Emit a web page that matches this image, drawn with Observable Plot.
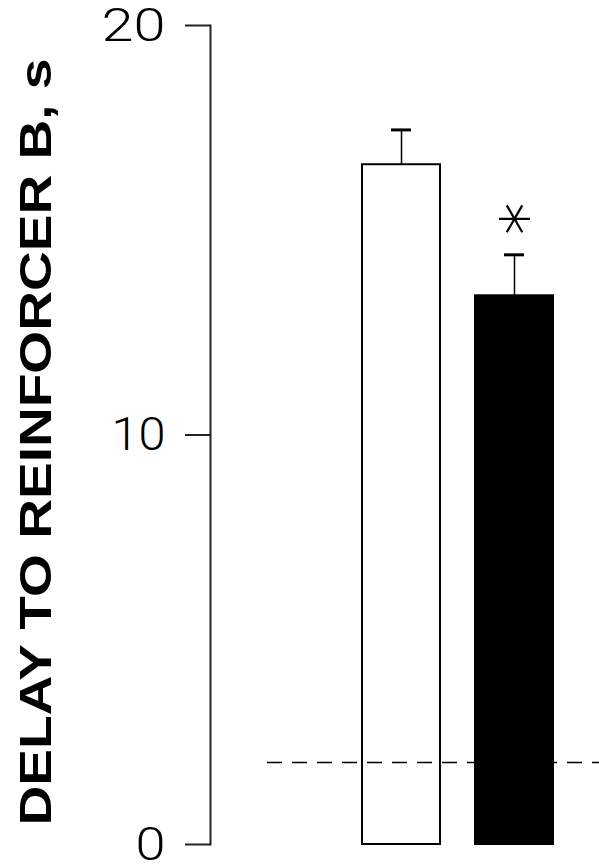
<!DOCTYPE html>
<html>
<head>
<meta charset="utf-8">
<script src="https://cdn.jsdelivr.net/npm/d3@7"></script>
<script src="https://cdn.jsdelivr.net/npm/@observablehq/plot@0.6"></script>
<style>
  html, body { margin: 0; padding: 0; background: white; }
</style>
</head>
<body>
<div id="chart"></div>
<script>
// Data
const categories = ["Group 1", "Group 2"];
const means = [16.6, 13.4];
const sems = [0.85, 1.0];
const significance = ["", "*"];
const baseline = [2];
const yTicks = [0, 10, 20];
const yLabel = "DELAY TO REINFORCER B, s";

const data = categories.map((c, i) => ({
  group: c,
  mean: means[i],
  top: means[i] + sems[i],
  sig: significance[i]
}));

// six-armed asterisk with a horizontal arm (as printed in the reference)
const asteriskH = {
  draw(context, size) {
    const r = Math.sqrt(size / Math.PI);
    const a = Math.PI / 3;
    for (const t of [0, a, 2 * a]) {
      const dx = r * Math.cos(t), dy = r * Math.sin(t);
      context.moveTo(-dx, -dy);
      context.lineTo(dx, dy);
    }
  }
};

const chart = Plot.plot({
  width: 599,
  height: 864,
  marginLeft: 210,
  marginRight: 0,
  marginTop: 25,
  marginBottom: 20,
  style: { fontFamily: "Roboto", background: "white", color: "black" },
  x: { type: "band", domain: categories, range: [362, 553], paddingInner: 0.31, paddingOuter: 0, axis: null },
  y: { domain: [0, 20] },
  color: { type: "ordinal", domain: categories, range: ["white", "black"] },
  marks: [
    Plot.barY(data, { x: "group", y: "mean", fill: "group", stroke: "black", strokeWidth: 2 }),
    Plot.ruleY(baseline, { insetLeft: 57, stroke: "black", strokeWidth: 1.5, strokeDasharray: "15,10" }),
    Plot.ruleX(data, { x: "group", y1: "mean", y2: "top", stroke: "black", strokeWidth: 1.5 }),
    Plot.tickY(data, { x: "group", y: "top", insetLeft: 29, insetRight: 29, stroke: "black", strokeWidth: 3 }),
    Plot.dot(data.filter(d => d.sig), { x: "group", y: "top", dy: -36, symbol: asteriskH, r: 15.5, stroke: "black", strokeWidth: 2.2, fill: "none", title: "sig" }),
    Plot.axisY({ ticks: yTicks, tickSize: 25, tickPadding: 20, fontSize: 47, fontWeight: 300, stroke: "#222", strokeWidth: 2, label: null }),
    Plot.frame({ anchor: "left", stroke: "#222", strokeWidth: 2 }),
    Plot.text([yLabel], { frameAnchor: "left", dx: -174, dy: 7, rotate: -90, fontSize: 44, fontWeight: "bold", fontFamily: "Liberation Sans", textAnchor: "middle", fill: "black" })
  ]
});

const svg = d3.select(chart);
svg.selectAll("text")
  .filter(function () { return this.textContent === yLabel; })
  .attr("textLength", 767)
  .attr("lengthAdjust", "spacingAndGlyphs");

// widen the tick numerals like the reference's extended face
const tickWidths = { "20": 64, "10": 54, "0": 30 };
svg.selectAll("text")
  .filter(function () { return this.textContent in tickWidths; })
  .each(function () {
    d3.select(this)
      .attr("textLength", tickWidths[this.textContent])
      .attr("lengthAdjust", "spacingAndGlyphs");
  });

document.getElementById("chart").appendChild(chart);
</script>
</body>
</html>
